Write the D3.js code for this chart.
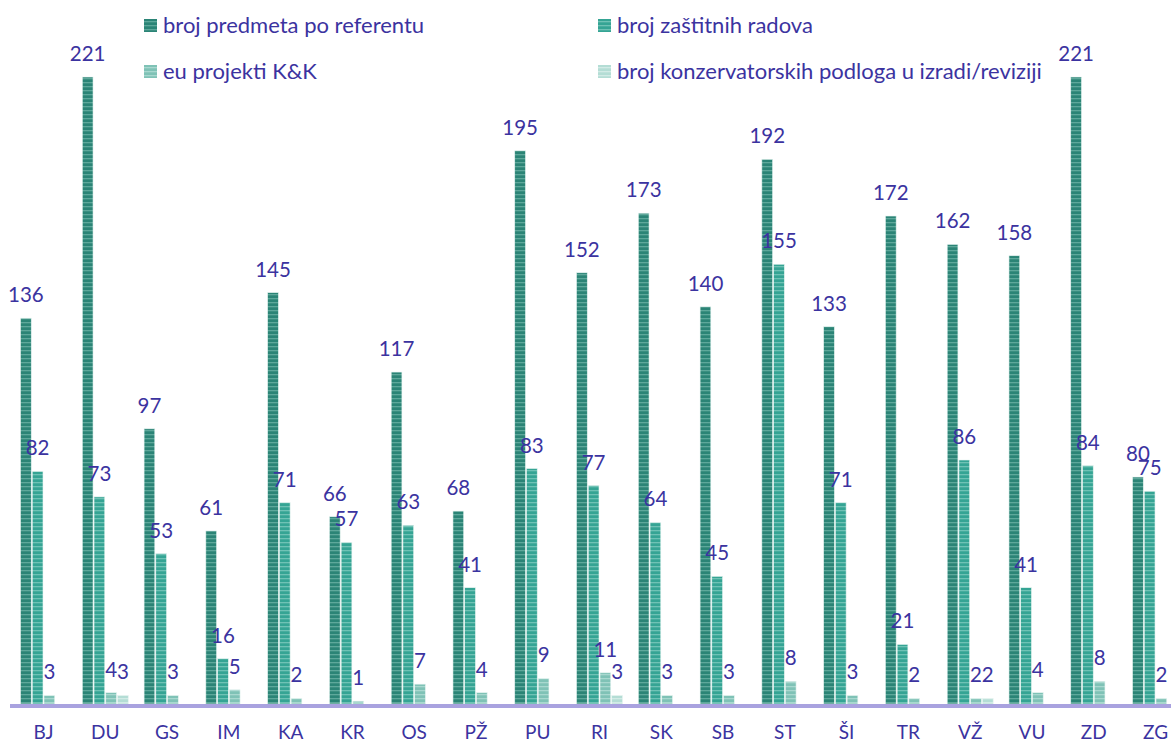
<!DOCTYPE html>
<html lang="hr">
<head>
<meta charset="UTF-8">
<title>Predmeti po odjelima</title>
<script src="https://d3js.org/d3.v7.min.js"></script>
<style>
  body { margin: 0; background: #fff; }
  svg text { font-family: Lato, "Open Sans", sans-serif; fill: #3b33a0; }
</style>
</head>
<body>
<div id="chart"></div>
<script>
// categories (odjeli)
const categories = ["BJ", "DU", "GS", "IM", "KA", "KR", "OS", "PŽ", "PU", "RI", "SK", "SB", "ST", "ŠI", "TR", "VŽ", "VU", "ZD", "ZG"];

// series names
const seriesNames = [
  "broj predmeta po referentu",
  "broj zaštitnih radova",
  "eu projekti K&K",
  "broj konzervatorskih podloga u izradi/reviziji"
];

// values (null = empty cell, no bar / no label)
const predmeti = [136, 221, 97, 61, 145, 66, 117, 68, 195, 152, 173, 140, 192, 133, 172, 162, 158, 221, 80];
const zastitni = [82, 73, 53, 16, 71, 57, 63, 41, 83, 77, 64, 45, 155, 71, 21, 86, 41, 84, 75];
const euProjekti = [3, 4, 3, 5, 2, 1, 7, 4, 9, 11, 3, 3, 8, 3, 2, 2, 4, 8, 2];
const podloge = [null, 3, null, null, null, null, null, null, null, 3, null, null, null, null, null, 2, null, null, null];

const seriesValues = [predmeti, zastitni, euProjekti, podloge];
const seriesColors = [
  { base: "#2b8476", stripe: "#5ea89b" },
  { base: "#35a494", stripe: "#6fc2b5" },
  { base: "#7fc2b6", stripe: "#a8d8cf" },
  { base: "#b4ddd5", stripe: "#d2ebe6" }
];

const width = 1171, height = 744;
const baseY = 704;

const svg = d3.select("#chart").append("svg")
  .attr("width", width)
  .attr("height", height);

// striped fills
const defs = svg.append("defs");
seriesColors.forEach((c, i) => {
  const p = defs.append("pattern")
    .attr("id", "stripe" + i)
    .attr("patternUnits", "userSpaceOnUse")
    .attr("width", 8).attr("height", 4);
  p.append("rect").attr("width", 8).attr("height", 4).attr("fill", c.base);
  p.append("rect").attr("y", 2).attr("width", 8).attr("height", 1.3).attr("fill", c.stripe);
});

const x = d3.scaleBand()
  .domain(categories)
  .range([12.6, 1186.4])
  .paddingInner(0.24)
  .paddingOuter(0.12);

const x1 = d3.scaleBand()
  .domain(d3.range(seriesNames.length))
  .range([0, x.bandwidth()]);

const y = d3.scaleLinear()
  .domain([0, 221])
  .range([baseY, 77]);

const rows = categories.map((c, i) => ({
  cat: c,
  vals: seriesValues.map((s, k) => ({ k: k, v: s[i] }))
}));

const groups = svg.append("g")
  .selectAll("g")
  .data(rows)
  .join("g")
  .attr("transform", d => `translate(${x(d.cat)},0)`);

groups.selectAll("rect")
  .data(d => d.vals.filter(e => e.v != null))
  .join("rect")
  .attr("x", d => x1(d.k) + 0.5)
  .attr("y", d => y(d.v))
  .attr("width", x1.bandwidth() - 1)
  .attr("height", d => baseY - y(d.v))
  .attr("fill", d => `url(#stripe${d.k})`)
  .attr("stroke", "#e6f3f0")
  .attr("stroke-width", 0.6);

groups.selectAll("text")
  .data(d => d.vals.filter(e => e.v != null))
  .join("text")
  .attr("x", d => x1(d.k) + x1.bandwidth() / 2)
  .attr("y", d => y(d.v) - 16)
  .attr("text-anchor", "middle")
  .style("font-size", "20.5px")
  .text(d => d.v);

// category axis
svg.append("line")
  .attr("x1", 10).attr("x2", width)
  .attr("y1", baseY + 2).attr("y2", baseY + 2)
  .attr("stroke", "#a9a2df")
  .attr("stroke-width", 4);

const xAxis = svg.append("g")
  .attr("transform", `translate(0,${baseY})`)
  .call(d3.axisBottom(x).tickSize(0).tickPadding(0));
xAxis.select(".domain").remove();
xAxis.selectAll("text")
  .attr("dy", null)
  .attr("y", 35)
  .style("font-size", "19px")
  .style("fill", "#3b33a0")
  .style("font-family", "Lato, 'Open Sans', sans-serif");

// legend
const legendPos = [[144, 19], [598, 19], [144, 65], [598, 65]];
const legend = svg.append("g")
  .selectAll("g")
  .data(seriesNames)
  .join("g")
  .attr("transform", (d, i) => `translate(${legendPos[i][0]},${legendPos[i][1]})`);
legend.append("rect")
  .attr("width", 13).attr("height", 13)
  .attr("fill", (d, i) => `url(#stripe${i})`);
legend.append("text")
  .attr("x", 19).attr("y", 14)
  .style("font-size", "22px")
  .text(d => d);
</script>
</body>
</html>
